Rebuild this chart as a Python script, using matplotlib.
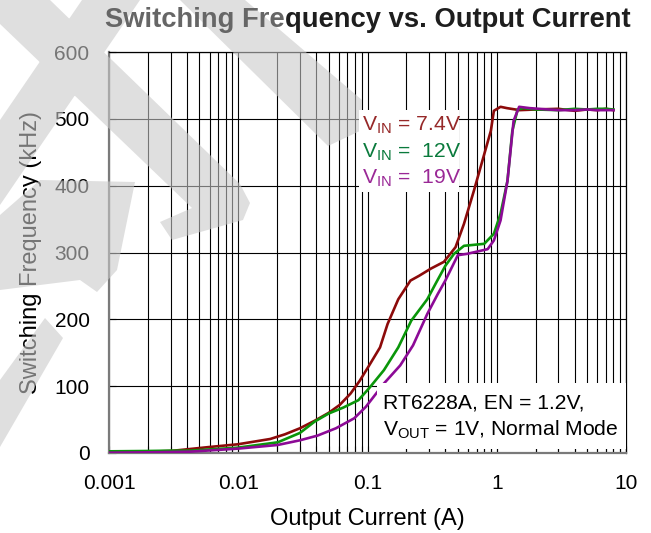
import matplotlib
matplotlib.use("Agg")
import matplotlib.pyplot as plt
import numpy as np
from matplotlib.path import Path
from matplotlib.patches import PathPatch
from matplotlib.ticker import LogLocator, NullFormatter, FixedLocator, FixedFormatter

plt.rcParams['font.family'] = ['Liberation Sans', 'DejaVu Sans']
plt.rcParams['mathtext.fontset'] = 'custom'
plt.rcParams['mathtext.rm'] = 'Liberation Sans'

# data
x_74 = [0.001, 0.002, 0.003, 0.00425, 0.006, 0.0099, 0.0177, 0.023, 0.03, 0.0388,
        0.05, 0.061, 0.074, 0.087, 0.103, 0.125, 0.143, 0.173, 0.215, 0.25,
        0.31, 0.39, 0.48, 0.558, 0.667, 0.8, 0.9, 0.95, 1.07, 1.2,
        1.5, 2, 3, 4, 5, 6, 7, 8]
f_74 = [1.5, 2, 3, 6, 9, 13, 21, 28, 37, 48,
        60, 72, 89, 108, 131, 158, 193, 230, 258, 265,
        276, 286, 308, 343, 393, 447, 482, 512, 518, 516,
        513, 514, 515, 512, 514, 513, 515, 513]

x_12 = [0.001, 0.002, 0.003, 0.00425, 0.0099, 0.0202, 0.03, 0.039, 0.05, 0.065,
        0.085, 0.103, 0.134, 0.173, 0.218, 0.29, 0.34, 0.4, 0.467, 0.558,
        0.8, 0.95, 1.07, 1.21, 1.32, 1.45, 1.6, 2, 3, 4,
        5, 6, 7, 8]
f_12 = [2.5, 3, 3.5, 3.5, 8, 16, 30, 47, 59, 68,
        79, 97, 124, 158, 198, 230, 255, 280, 298, 310,
        313, 328, 358, 407, 482, 514, 516, 514, 513, 515,
        514, 515, 515, 514]

x_19 = [0.001, 0.002, 0.003, 0.00425, 0.0099, 0.0202, 0.03, 0.041, 0.057, 0.079,
        0.097, 0.134, 0.179, 0.225, 0.29, 0.35, 0.4, 0.5, 0.59, 0.85,
        0.95, 1.07, 1.21, 1.35, 1.49, 1.8, 2.5, 3, 4, 5,
        6, 7, 8]
f_19 = [0.5, 1, 1.5, 2, 6.5, 12, 19, 26, 37, 52,
        69, 104, 131, 161, 208, 238, 258, 296, 298, 305,
        318, 348, 407, 497, 518, 516, 514, 513, 513, 514,
        513, 513, 513]

labels = ['7.4V', ' 12V', ' 19V']
colors = ['#8c0a0a', '#0a960a', '#8c0a96']
text_colors = ['#962828', '#0a7a3c', '#9a2896']

fig = plt.figure(figsize=(6.51, 5.33), dpi=100)
ax = fig.add_axes([109/651, 1-453/533, 517/651, 401/533])

for xs, ys, c in zip([x_74, x_12, x_19], [f_74, f_12, f_19], colors):
    ax.plot(xs, ys, color=c, lw=1.9, zorder=3)

ax.set_xscale('log')
ax.set_xlim(0.001, 10)
ax.set_ylim(0, 600)
ax.set_yticks([0, 100, 200, 300, 400, 500, 600])
ax.xaxis.set_major_locator(FixedLocator([0.001, 0.01, 0.1, 1, 10]))
ax.xaxis.set_major_formatter(FixedFormatter(['0.001', '0.01', '0.1', '1', '10']))
ax.xaxis.set_minor_locator(LogLocator(base=10, subs=np.arange(2, 10)))
ax.xaxis.set_minor_formatter(NullFormatter())
ax.grid(True, which='both', axis='x', color='black', lw=0.8)
ax.grid(True, which='major', axis='y', color='black', lw=0.8)
ax.tick_params(axis='both', which='both', direction='in', length=5, width=0.8,
               labelsize=15, colors='black')
ax.tick_params(axis='y', pad=14)
ax.tick_params(axis='x', pad=15)
for s in ['top', 'right']:
    ax.spines[s].set_color('black')
    ax.spines[s].set_linewidth(0.9)
for s in ['left', 'bottom']:
    ax.spines[s].set_color('#7a7a7a')
    ax.spines[s].set_linewidth(1.6)

ax.set_xlabel('Output Current (A)', fontsize=17, labelpad=11)
ax.set_ylabel('Switching Frequency (kHz)', fontsize=17, labelpad=9)

# title: the left part sits under the watermark, so it reads grey
r = fig.canvas.get_renderer()
t1 = fig.text(105/651, 1-20/533, 'Switching Fre', fontsize=19.7, fontweight='bold',
              color='#666666', ha='left', va='center', zorder=6)
w1 = t1.get_window_extent(renderer=r).width
fig.text((105 + w1)/651, 1-20/533, 'quency vs. Output Current', fontsize=19.7,
         fontweight='bold', color='#1e1e1e', ha='left', va='center', zorder=6)

# watermark (light grey shapes over the plot, pixel coords, y down)
wm_shapes = [
    [(-25, 0), (50, 0), (240, 184), (250, 203), (243, 220), (172, 240),
     (160, 222), (192, 208)],
    [(82, 0), (140, 0), (0, 205), (0, 120)],
    [(180, 0), (245, 0), (362, 100), (362, 130), (328, 146)],
    [(0, 215), (40, 180), (135, 182), (117, 270), (97, 292), (80, 280), (0, 290)],
    [(45, 318), (63, 338), (0, 447), (0, 380)],
]
verts, codes = [], []
for shp in wm_shapes:
    for i, (px, py) in enumerate(shp):
        verts.append((px/651, 1-py/533))
        codes.append(Path.MOVETO if i == 0 else Path.LINETO)
    verts.append((0, 0))
    codes.append(Path.CLOSEPOLY)
wm = PathPatch(Path(verts, codes), transform=fig.transFigure, facecolor=(0.79, 0.79, 0.79),
               edgecolor='none', alpha=0.59, zorder=5)
fig.add_artist(wm)

# curve labels
ys_lab = [125, 152, 178]
for lab, tc, yy in zip(labels, text_colors, ys_lab):
    fig.text(362/651, 1-yy/533, r'$\mathregular{V_{IN}}$ = ' + lab, fontsize=15.2, color=tc,
             ha='left', va='center', zorder=12)
fig.patches.append(plt.Rectangle((359/651, 1-192/533), 100/651, 82/533, transform=fig.transFigure,
                                 facecolor='white', edgecolor='none', zorder=11))

# condition note
fig.patches.append(plt.Rectangle((377/651, 1-449/533), 249/651, 66/533, transform=fig.transFigure,
                                 facecolor='white', edgecolor='none', zorder=11))
fig.text(383/651, 1-403/533, 'RT6228A, EN = 1.2V,', fontsize=15.2, color='black',
         ha='left', va='center', zorder=12)
fig.text(383/651, 1-430/533, r'$\mathregular{V_{OUT}}$ = 1V, Normal Mode', fontsize=15.2,
         color='black', ha='left', va='center', zorder=12)

fig.savefig('out.png', dpi=100)
